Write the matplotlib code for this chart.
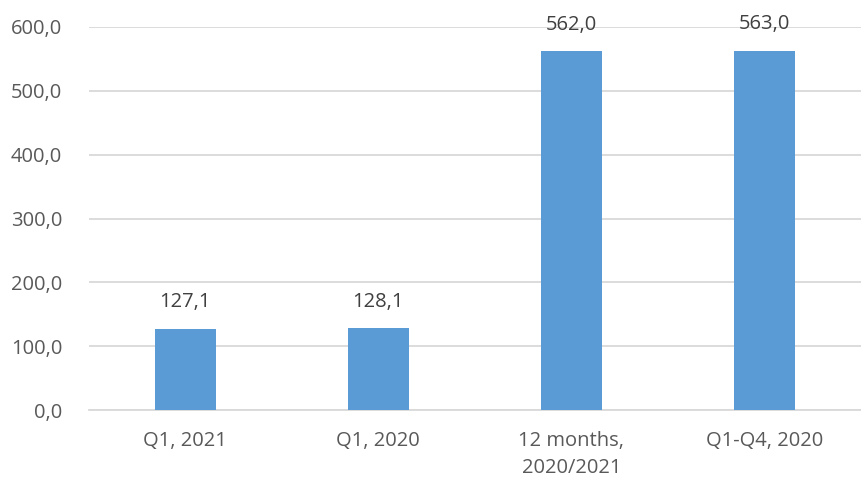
import matplotlib.pyplot as plt

# values
categories = ["Q1, 2021", "Q1, 2020", "12 months,\n2020/2021", "Q1-Q4, 2020"]
values = [127.1, 128.1, 562.0, 563.0]
yticks = [0, 100, 200, 300, 400, 500, 600]

plt.rcParams['font.family'] = ['Open Sans', 'DejaVu Sans']

fig = plt.figure(figsize=(8.61, 4.82), dpi=100)
ax = fig.add_axes([0.103, 0.149, 0.897, 0.795])

x = range(len(categories))
bars = ax.bar(x, values, width=0.316, color='#5b9bd5', zorder=3)

for b, v in zip(bars, values):
    ax.annotate("{:.1f}".format(v).replace('.', ','),
                xy=(b.get_x() + b.get_width() / 2, v),
                xytext=(0, 12), textcoords="offset points",
                ha='center', va='bottom', fontsize=14.5, color='#404040')

ax.set_xlim(-0.5, len(categories) - 0.5)
ax.set_ylim(0, 600)
ax.set_yticks(yticks)
ax.set_yticklabels(["{:.1f}".format(t).replace('.', ',') for t in yticks])
ax.set_xticks(list(x))
ax.set_xticklabels(categories, linespacing=1.45)

ax.grid(axis='y', color='#d9d9d9', linewidth=1.3, zorder=0)
for s in ['top', 'right', 'left']:
    ax.spines[s].set_visible(False)
ax.spines['bottom'].set_color('#d9d9d9')
ax.spines['bottom'].set_linewidth(1.3)
ax.tick_params(axis='both', length=0, labelsize=14.5, labelcolor='#595959')
ax.tick_params(axis='y', pad=19)
ax.tick_params(axis='x', pad=15)

fig.savefig('out.png', dpi=100)
